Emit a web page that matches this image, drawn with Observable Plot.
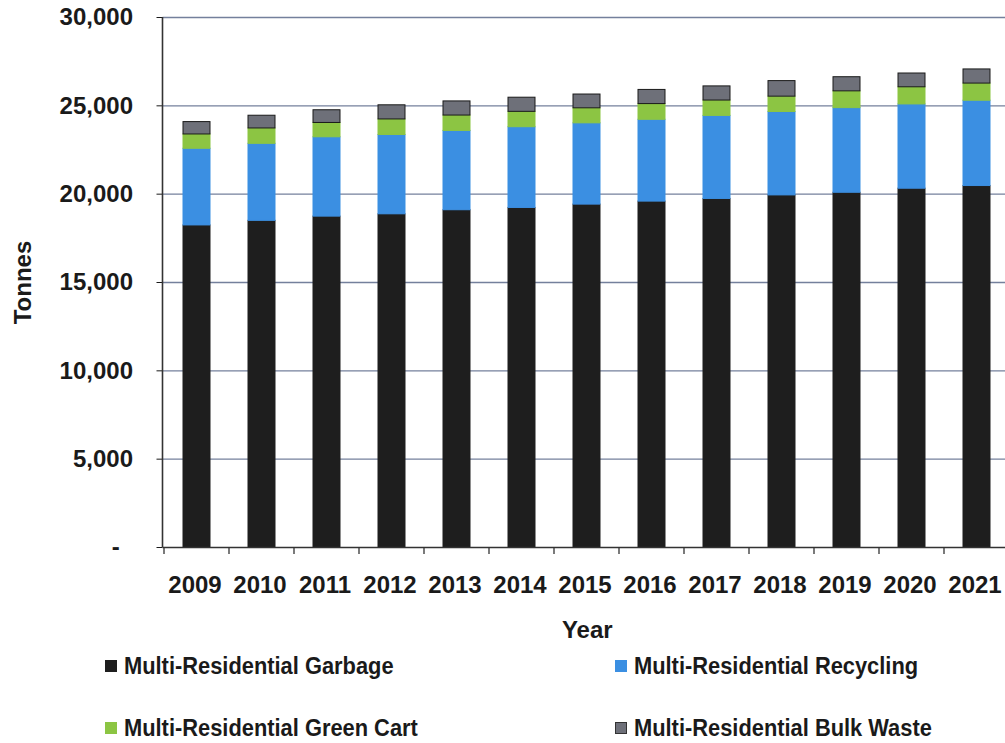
<!DOCTYPE html>
<html><head><meta charset="utf-8">
<script src="https://cdn.jsdelivr.net/npm/d3@7"></script>
<script src="https://cdn.jsdelivr.net/npm/@observablehq/plot@0.6"></script>
<style>
body{margin:0;background:#fff;font-family:"Liberation Sans",Arial,sans-serif;}
#legend{position:relative;height:95px;width:1005px;}
.item{position:absolute;display:flex;align-items:center;height:28px;white-space:nowrap;}
.sw{width:12px;height:12px;margin-right:7px;box-sizing:border-box;}
.lab{font-weight:bold;font-size:23px;color:#1a1a1a;display:inline-block;transform:scaleX(0.95);transform-origin:left center;}
</style></head><body><div id="chart"></div><div id="legend"></div>
<script>
const years = [2009, 2010, 2011, 2012, 2013, 2014, 2015, 2016, 2017, 2018, 2019, 2020, 2021];
const seriesNames = ["Multi-Residential Garbage", "Multi-Residential Recycling", "Multi-Residential Green Cart", "Multi-Residential Bulk Waste"];
const garbage   = [18230, 18490, 18730, 18860, 19090, 19220, 19410, 19580, 19730, 19930, 20080, 20310, 20460];
const recycling = [4340, 4360, 4490, 4490, 4490, 4570, 4600, 4630, 4700, 4720, 4790, 4770, 4830];
const greenCart = [810, 870, 810, 880, 870, 870, 850, 890, 870, 870, 950, 970, 970];
const bulkWaste = [700, 720, 720, 800, 800, 800, 780, 800, 800, 880, 800, 780, 800];
const seriesColors = ["#1e1e1e", "#3b8fe2", "#8cc543", "#6e7079"];
const yTicks = [0, 5000, 10000, 15000, 20000, 25000, 30000];
const yAxisLabel = "Tonnes";
const xAxisLabel = "Year";

const seriesValues = [garbage, recycling, greenCart, bulkWaste];
const colorOf = new Map(seriesNames.map((s, k) => [s, seriesColors[k]]));
const data = years.flatMap((yr, i) => seriesNames.map((s, k) => ({year: String(yr), series: s, value: seriesValues[k][i]})));

const chart = Plot.plot({
  width: 1005, height: 648,
  marginLeft: 162.5, marginRight: -6, marginTop: 17, marginBottom: 101,
  style: {fontFamily: "'Liberation Sans', Arial, sans-serif", background: "white", color: "#1a1a1a"},
  x: {domain: years.map(String), paddingInner: 0.586, paddingOuter: 0.293, label: null},
  y: {domain: [0, 30000], label: null},
  marks: [
    Plot.gridY(yTicks.filter(d => d > 0), {stroke: "#74809c", strokeOpacity: 1, strokeWidth: 1.3}),
    Plot.barY(data, {
      x: "year", y: "value",
      fill: d => colorOf.get(d.series),
      stroke: d => d.series === seriesNames[3] ? "#1a1a1a" : colorOf.get(d.series),
      strokeWidth: 1
    }),
    Plot.ruleY([0], {stroke: "#333", strokeWidth: 1.5}),
    Plot.axisY({ticks: yTicks, tickFormat: d => d === 0 ? "-\u00a0\u00a0" : d3.format(",")(d), tickSize: 6, tickPadding: 24, fontSize: 24, fontWeight: "bold", label: null}),
    Plot.axisX({tickSize: 0, tickPadding: 28, fontSize: 24, fontWeight: "bold", dx: -2, label: null}),
    Plot.text([xAxisLabel], {text: d => d, frameAnchor: "bottom", lineAnchor: "middle", textAnchor: "middle", dy: 83, fontSize: 24, fontWeight: "bold"}),
    Plot.text([yAxisLabel], {text: d => d, frameAnchor: "left", lineAnchor: "middle", textAnchor: "middle", dx: -140, rotate: -90, fontSize: 24, fontWeight: "bold"})
  ]
});

// axis line and band-boundary ticks from the plot's own scales
const xs = chart.scale("x"), ys = chart.scale("y");
const svg = d3.select(chart);
const y0 = ys.apply(0), yTop = ys.apply(30000);
const gap = (xs.step - xs.bandwidth) / 2;
const bounds = years.map(yr => xs.apply(String(yr)) - gap);
bounds.push(xs.apply(String(years[years.length - 1])) + xs.bandwidth + gap);
const g = svg.append("g").attr("stroke", "#333").attr("stroke-width", 1.3);
bounds.forEach(b => g.append("line").attr("x1", b).attr("x2", b).attr("y1", y0).attr("y2", y0 + 7));
g.append("line").attr("x1", xs.range[0]).attr("x2", xs.range[0]).attr("y1", yTop).attr("y2", y0).attr("stroke-width", 1.6);

document.getElementById("chart").appendChild(chart);

const legendPos = [[105, 4], [615, 4], [105, 66], [615, 66]];
const legend = d3.select("#legend");
seriesNames.forEach((s, k) => {
  const it = legend.append("div").attr("class", "item").style("left", legendPos[k][0] + "px").style("top", legendPos[k][1] + "px");
  it.append("span").attr("class", "sw").style("background", seriesColors[k]).style("border", k === 3 ? "1px solid #333" : "none");
  it.append("span").attr("class", "lab").text(s);
});
</script></body></html>
